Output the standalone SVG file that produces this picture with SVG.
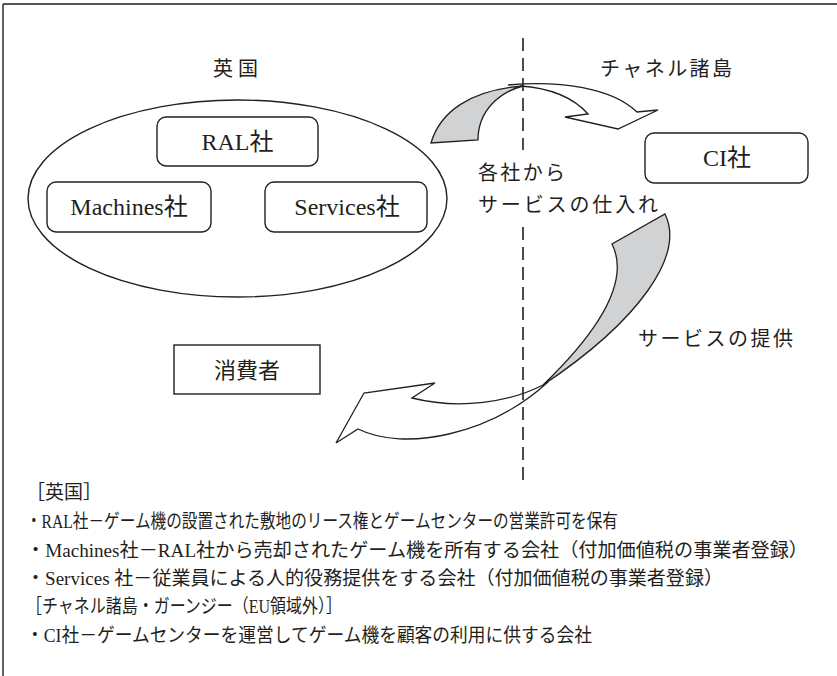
<svg xmlns="http://www.w3.org/2000/svg" width="837" height="676" viewBox="0 0 837 676">
<style>
text{font-family:"Liberation Serif","Noto Sans CJK JP",serif;fill:#231f20}
.ln{fill:none;stroke:#231f20;stroke-width:1.4}
.box{fill:#fff;stroke:#231f20;stroke-width:1.4}
.gray{fill:#d1d2d4;stroke:#231f20;stroke-width:1.3;stroke-linejoin:miter}
.wh{fill:none;stroke:#231f20;stroke-width:1.3;stroke-linejoin:miter}
.dash{fill:none;stroke:#231f20;stroke-width:1.6;stroke-dasharray:13 7}
.node{font-size:24px;text-anchor:middle;dominant-baseline:central}
.lbl{font-size:20px;dominant-baseline:central}
.note{font-size:19px;dominant-baseline:central}
</style>
<path class="ln" d="M3,4 H837 M3,4 V676"/>
<text class="lbl" x="213" y="69" textLength="45" lengthAdjust="spacing">英国</text>
<text class="lbl" x="600" y="69" textLength="132" lengthAdjust="spacing">チャネル諸島</text>
<ellipse class="ln" cx="237.5" cy="198.5" rx="209.5" ry="98.5"/>
<g id="ral"><rect class="box" x="157" y="117" width="161" height="49" rx="9"/><text class="node" x="237.5" y="141.5">RAL社</text></g>
<g id="machines"><rect class="box" x="47" y="182" width="164" height="50" rx="9"/><text class="node" x="129" y="207">Machines社</text></g>
<g id="services"><rect class="box" x="265" y="182" width="162" height="50" rx="9"/><text class="node" x="347" y="207">Services社</text></g>
<g id="ci"><rect class="box" x="645" y="133" width="163" height="50" rx="9"/><text class="node" x="727" y="158">CI社</text></g>
<g id="consumer"><rect class="box" x="174" y="345" width="146" height="49"/><text class="node" x="247" y="370" style="font-size:22px">消費者</text></g>
<g id="connectors">
<path class="gray" d="M431,143 C440,112 470,90 523,86 C500,92 478,110 478,140 Z"/>
<path class="wh" d="M508,85 C560,80 612,88 637,112 L658,110 L618,129 L565,117 L588,114 C572,96 550,88 520,86"/>
<path class="gray" d="M665,214 C685,255 640,320 543,385 C600,330 630,280 612,244 Z"/>
<path class="wh" d="M543,385 C510,402 460,410 412,398 L435,383 L364,393 L336,443 L358,429 C405,452 490,435 548,382"/>
<path class="dash" d="M523,38 V150 M523,227 V482"/>
</g>
<text class="lbl" x="478" y="173" textLength="87" lengthAdjust="spacing">各社から</text>
<text class="lbl" x="478" y="205" textLength="180" lengthAdjust="spacing">サービスの仕入れ</text>
<text class="lbl" x="638" y="339" textLength="155" lengthAdjust="spacing">サービスの提供</text>
<text class="note" x="26" y="492">［英国］</text>
<text class="note" x="26" y="521" textLength="592" lengthAdjust="spacingAndGlyphs">・RAL社－ゲーム機の設置された敷地のリース権とゲームセンターの営業許可を保有</text>
<text class="note" x="26" y="550" textLength="782" lengthAdjust="spacingAndGlyphs">・Machines社－RAL社から売却されたゲーム機を所有する会社（付加価値税の事業者登録）</text>
<text class="note" x="26" y="578" textLength="697" lengthAdjust="spacingAndGlyphs">・Services 社－従業員による人的役務提供をする会社（付加価値税の事業者登録）</text>
<text class="note" x="26" y="606" textLength="316" lengthAdjust="spacingAndGlyphs">［チャネル諸島・ガーンジー（EU領域外）］</text>
<text class="note" x="26" y="635" textLength="566" lengthAdjust="spacingAndGlyphs">・CI社－ゲームセンターを運営してゲーム機を顧客の利用に供する会社</text>
</svg>
